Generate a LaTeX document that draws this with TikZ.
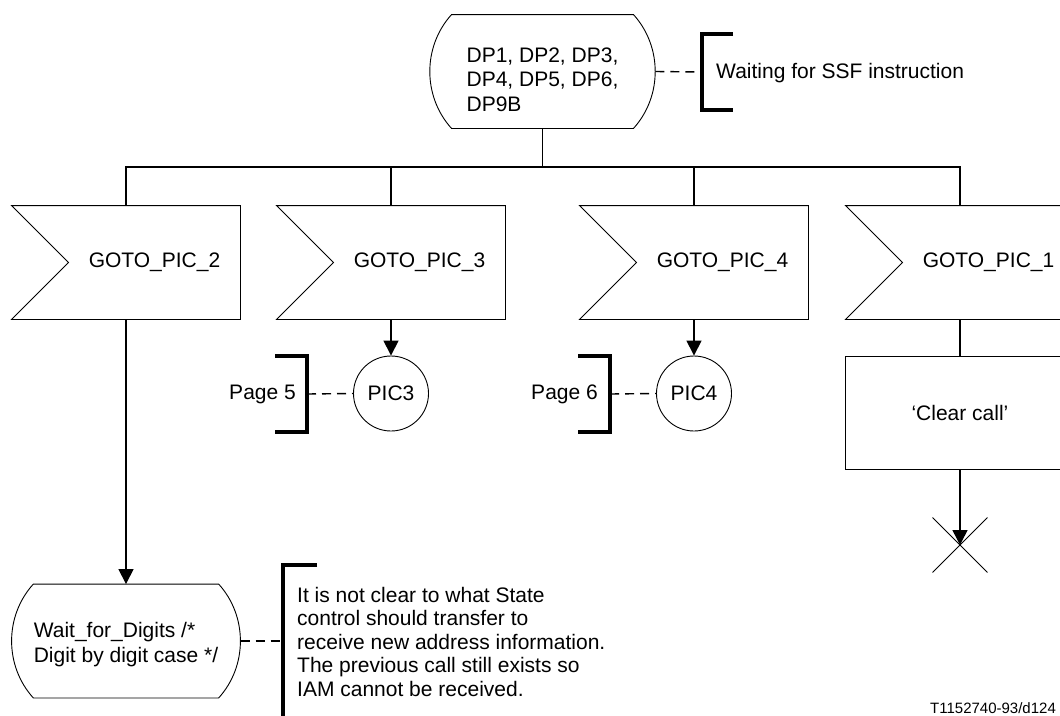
\documentclass[tikz,border=0pt]{standalone}
\usepackage{fontspec}
\setmainfont{Liberation Sans}
\usetikzlibrary{arrows.meta,shapes.misc}
\begin{document}
\begin{tikzpicture}[x=1pt,y=-1pt,
  txt/.style={font=\fontsize{21}{24.7}\selectfont, inner sep=0pt},
  outline/.style={line width=0.9pt},
  conn/.style={line width=1.5pt},
  arr/.style={conn,-{Triangle[length=15pt,width=15pt]}},
  comm/.style={line width=1.4pt, dash pattern=on 9pt off 6pt},
  brk/.style={line width=3.2pt},
  sdlstate/.style={txt, align=left, minimum width=181pt, minimum height=113pt,
    append after command={
      (\tikzlastnode.north west) -- (\tikzlastnode.north east)
      .. controls ([shift={(29,32)}]\tikzlastnode.north east) and ([shift={(29,-32)}]\tikzlastnode.south east) .. (\tikzlastnode.south east)
      -- (\tikzlastnode.south west)
      .. controls ([shift={(-29,-32)}]\tikzlastnode.south west) and ([shift={(-29,32)}]\tikzlastnode.north west) .. (\tikzlastnode.north west) -- cycle}},
  sdlinput/.style={txt, minimum width=228pt, minimum height=113pt,
    append after command={
      (\tikzlastnode.north west) -- (\tikzlastnode.north east) -- (\tikzlastnode.south east)
      -- (\tikzlastnode.south west) -- ([shift={(57,0)}]\tikzlastnode.west) -- cycle}},
  task/.style={txt, draw, outline, minimum width=230pt, minimum height=113pt},
  pic/.style={txt, draw, outline, circle, minimum size=75pt},
  stopx/.style={draw, outline, cross out, minimum size=54pt, inner sep=0pt}
]
\clip (0,0) rectangle (1060,715);
\fill[white] (0,0) rectangle (1060,715);

% states
\draw[outline] (542.5,71.5) node[sdlstate] (s0) {\rule{0pt}{31pt}DP1, DP2, DP3,\\DP4, DP5, DP6,\\DP9B};
\draw[outline] (126,641) node[sdlstate] (s1) {\rule{0pt}{23pt}Wait\_for\_Digits /*\\Digit by digit case */};

% inputs
\draw[outline] (126,262.5) node[sdlinput] (in1) {\hspace*{57pt}GOTO\_PIC\_2};
\draw[outline] (391,262.5) node[sdlinput] (in2) {\hspace*{57pt}GOTO\_PIC\_3};
\draw[outline] (694,262.5) node[sdlinput] (in3) {\hspace*{57pt}GOTO\_PIC\_4};
\draw[outline] (960,262.5) node[sdlinput] (in4) {\hspace*{57pt}GOTO\_PIC\_1};

% connectors / pics
\node[pic] (p3) at (391,393.5) {PIC3};
\node[pic] (p4) at (694,393.5) {PIC4};
\node[task] (clr) at (960,412.5) {‘Clear call’};
\node[stopx] (x1) at (960,545) {};

\coordinate (bus) at (542.5,167);
\draw[conn] (s0.south) -- (bus);
\draw[conn] (in1.north) |- (bus) -| (in4.north);
\draw[conn] (in2.north) -- (in2.north |- bus);
\draw[conn] (in3.north) -- (in3.north |- bus);
\draw[arr] (in1.south) -- (s1.north);
\draw[arr] (in2.south) -- (p3.north);
\draw[arr] (in3.south) -- (p4.north);
\draw[conn] (in4.south) -- (clr.north);
\draw[arr] (clr.south) -- (x1.center);

% comment: waiting
\coordinate (b0) at (702,72);
\node[txt, anchor=west] (c0) at (716,73) {Waiting for SSF instruction};
\draw[comm] ([shift={(22,0)}]s0.east) -- (b0);
\draw[brk] ([shift={(31,-38)}]b0) -- ([shift={(0,-38)}]b0) -- ([shift={(0,38)}]b0) -- ([shift={(31,38)}]b0);

% page references
\coordinate (b3) at (307,394);
\node[txt, anchor=east] (pg5) at (296,394) {Page 5};
\draw[comm] (b3) -- (p3.west);
\draw[brk] ([shift={(-32,-38)}]b3) -- ([shift={(0,-38)}]b3) -- ([shift={(0,38)}]b3) -- ([shift={(-32,38)}]b3);

\coordinate (b4) at (610,394);
\node[txt, anchor=east] (pg6) at (598,394) {Page 6};
\draw[comm] (b4) -- (p4.west);
\draw[brk] ([shift={(-32,-38)}]b4) -- ([shift={(0,-38)}]b4) -- ([shift={(0,38)}]b4) -- ([shift={(-32,38)}]b4);

% bottom comment
\coordinate (b1) at (283,641);
\node[txt, font=\fontsize{21}{23.4}\selectfont, align=left, anchor=north west] (c1) at (297,587) {It is not clear to what State\\control should transfer to\\receive new address information.\\The previous call still exists so\\IAM cannot be received.};
\draw[comm] ([shift={(22,0)}]s1.east) -- (b1);
\draw[brk] ([shift={(34,-76)}]b1) -- ([shift={(0,-76)}]b1) -- ([shift={(0,82)}]b1);

% figure id
\node[font=\fontsize{15}{18}\selectfont, inner sep=0pt, anchor=west] (fig) at (930,708) {T1152740-93/d124};
\end{tikzpicture}
\end{document}
